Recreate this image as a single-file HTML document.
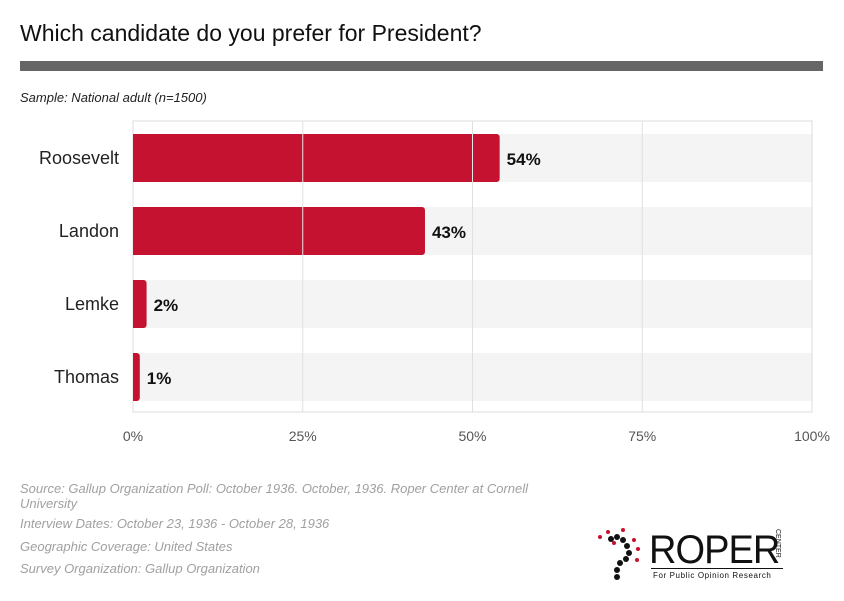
<!DOCTYPE html>
<html><head><meta charset="utf-8"><style>
body{margin:0;width:844px;height:601px;background:#fff;font-family:"Liberation Sans",sans-serif;overflow:hidden;position:relative}
.abs{position:absolute}
.foot{position:absolute;left:20px;font-size:13px;font-style:italic;color:#a0a0a0}
</style></head><body>
<div class="abs" style="left:20px;top:20px;font-size:23px;color:#111">Which candidate do you prefer for President?</div>
<div class="abs" style="left:20px;top:61px;width:803px;height:10px;background:#666"></div>
<div class="abs" style="left:20px;top:90px;font-size:13px;font-style:italic;color:#222">Sample: National adult (n=1500)</div>
<svg class="abs" style="left:0;top:0" width="844" height="601">
<g id="g"></g>
</svg>
<div class="foot" style="top:481px;width:545px;line-height:15px">Source: Gallup Organization Poll: October 1936. October, 1936. Roper Center at Cornell University</div>
<div class="foot" style="top:516px">Interview Dates: October 23, 1936 - October 28, 1936</div>
<div class="foot" style="top:539px">Geographic Coverage: United States</div>
<div class="foot" style="top:561px">Survey Organization: Gallup Organization</div>
<div class="abs" style="left:593px;top:527px;width:195px;height:58px">
<svg width="60" height="58" class="abs" style="left:0;top:0">
<g fill="#111"><circle cx="18" cy="12" r="3"/><circle cx="24" cy="10" r="3"/><circle cx="30" cy="13" r="3"/><circle cx="34" cy="19" r="3"/><circle cx="36" cy="26" r="3"/><circle cx="33" cy="32" r="3"/><circle cx="27" cy="36" r="3"/><circle cx="24" cy="43" r="3"/><circle cx="24" cy="50" r="3"/></g>
<g fill="#c8102e"><circle cx="7" cy="10" r="2"/><circle cx="15" cy="5" r="2"/><circle cx="30" cy="3" r="2"/><circle cx="41" cy="13" r="2"/><circle cx="45" cy="22" r="2"/><circle cx="44" cy="33" r="2"/><circle cx="21" cy="16" r="2"/></g>
</svg>
<div class="abs" style="left:56px;top:3px;font-size:40px;color:#111;line-height:40px;transform:scaleX(0.95);transform-origin:left top;letter-spacing:-1px">ROPER</div>
<div class="abs" style="left:181px;top:2px;font-size:7px;color:#111;writing-mode:vertical-rl">CENTER</div>
<div class="abs" style="left:58px;top:41px;width:132px;border-top:1px solid #111"></div>
<div class="abs" style="left:60px;top:44px;font-size:8px;color:#111;letter-spacing:.6px">For Public Opinion Research</div>
</div>
<script>
const categories=["Roosevelt","Landon","Lemke","Thomas"];
const values=[54,43,2,1];
const ticks=[0,25,50,75,100];
const NS="http://www.w3.org/2000/svg";
const g=document.getElementById('g');
const x0=133,x1=812,top0=121,bot=412;
const xs=v=>x0+(x1-x0)*v/100;
const rowY=i=>134+i*73;
function el(t,a){const e=document.createElementNS(NS,t);for(const k in a)e.setAttribute(k,a[k]);g.appendChild(e);return e;}
categories.forEach((c,i)=>{
 const bg=el('rect',{x:x0,y:rowY(i),width:x1-x0,height:48,fill:'#f4f4f4'});
 
 
});
ticks.forEach(t=>{
 const l=el('line',{x1:xs(t),x2:xs(t),y1:top0,y2:bot,stroke:'#e0e0e0','stroke-width':1});
 
 
 const tx=el('text',{x:xs(t),y:441,'text-anchor':'middle','font-size':14,fill:'#555'});
 tx.textContent=t+'%';
 
 
});
const fr=el('rect',{x:x0,y:top0,width:x1-x0,height:bot-top0,fill:'none',stroke:'#ddd'});


categories.forEach((c,i)=>{
 const w=xs(values[i])-x0;
 const b=el('path',{d:`M${x0},${rowY(i)}h${w-3}a3,3 0 0 1 3,3v42a3,3 0 0 1 -3,3h${-(w-3)}z`,fill:'#c41230'});
 
 
 ticks.forEach(t=>{if(xs(t)>x0&&xs(t)<xs(values[i])){const gl=el('line',{x1:xs(t),x2:xs(t),y1:rowY(i),y2:rowY(i)+48,stroke:'#e8e8e8','stroke-width':1});}});
 const v=el('text',{x:xs(values[i])+7,y:rowY(i)+31,'font-size':17,'font-weight':'bold',fill:'#111'});
 v.textContent=values[i]+'%';
 
 
 const lab=el('text',{x:119,y:rowY(i)+30,'text-anchor':'end','font-size':18,fill:'#222'});
 lab.textContent=c;
 
 
});
</script>
</body></html>
